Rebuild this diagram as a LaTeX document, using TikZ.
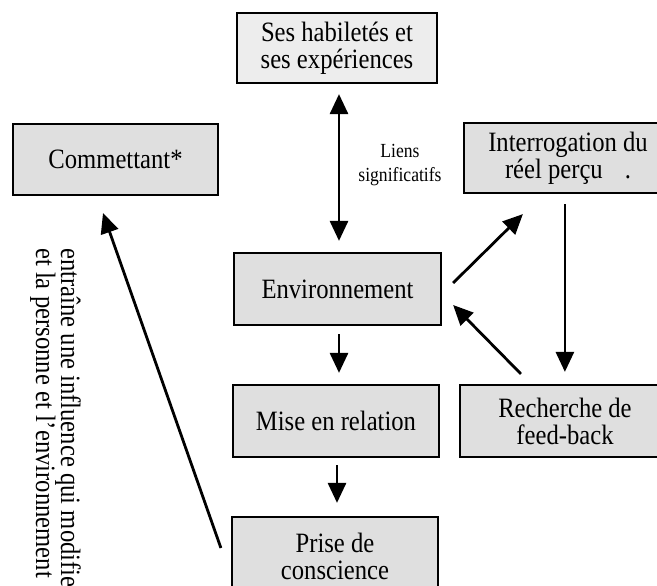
\documentclass[tikz,border=0pt]{standalone}
\usepackage{fontspec}
\setmainfont[FakeStretch=0.88]{Liberation Serif}
\usetikzlibrary{arrows.meta,calc}
\begin{document}
\begin{tikzpicture}[x=1pt,y=1pt,
  box/.style={draw=black, line width=2.2pt, fill=gray!25, inner sep=0pt, align=center,
    font=\fontsize{28}{27}\selectfont},
  arr/.style={line width=2.8pt, -{Triangle[length=20pt,width=18pt]}},
  dbl/.style={line width=2.8pt, {Triangle[length=20pt,width=18pt]}-{Triangle[length=20pt,width=18pt]}},
  rottext/.style={rotate=-90, anchor=base west, inner sep=0pt, font=\fontsize{28}{26}\selectfont}]
\useasboundingbox (0,0) rectangle (657,586);
\fill[white] (0,0) rectangle (657,586);

\node[box, fill=gray!14, minimum width=200pt, minimum height=70pt] (top) at (337,538) {Ses habiletés et\\ses expériences};
\node[box, minimum width=205pt, minimum height=71pt] (comm) at (115.5,426.5) {Commettant*};
\node[box, minimum width=208pt, minimum height=70pt] (interr) at (568,428) {Interrogation du\\réel perçu\hspace{22pt}.};
\node[box, minimum width=207pt, minimum height=72pt] (env) at (337.5,297) {Environnement};
\node[box, minimum width=206pt, minimum height=72pt] (mise) at (336,165) {Mise en relation};
\node[box, minimum width=210pt, minimum height=72pt] (rech) at (565,165) {Recherche de\\feed-back};
\node[box, minimum width=206pt, minimum height=78pt] (prise) at (335,30) {Prise de\\conscience};

\node[align=center, inner sep=0pt, font=\fontsize{20}{24}\selectfont] (liens) at (400,421) {Liens\\significatifs};

\node[rottext] (l1) at (61,338) {entraîne une influence qui modifie};
\node[rottext] (l2) at (36,338) {et la personne et l'environnement};

\draw[dbl] ($(top.south)+(2,-10)$) -- ($(env.north)+(1.5,11)$);
\draw[arr] ($(env.south)+(1.5,-8)$) -- ($(mise.north)+(3,11)$);
\draw[arr] ($(mise.south)+(1,-7)$) -- ($(prise.north)+(2,13)$);
\draw[arr] ($(env.east)+(11,6)$) -- ($(interr.south west)+(60,-20)$);
\draw[arr] ($(interr.south west)+(102,-10)$) -- ($(rech.north west)+(106,12)$);
\draw[arr] ($(rech.north west)+(62,10)$) -- ($(env.east)+(11,-16)$);
\draw[arr] ($(prise.west)+(-10,8)$) -- ($(comm.south)+(-12.5,-17)$);
\end{tikzpicture}
\end{document}
